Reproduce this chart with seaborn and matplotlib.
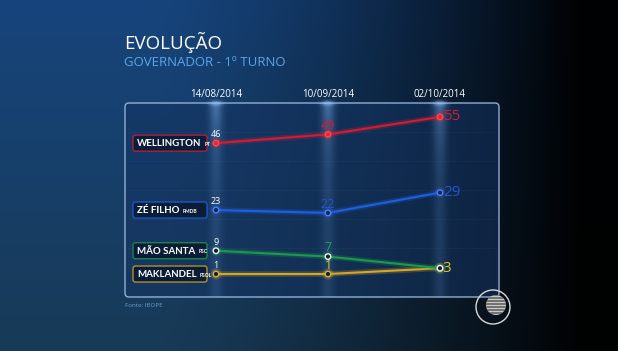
import matplotlib
matplotlib.use("Agg")
import matplotlib.pyplot as plt
import matplotlib.patheffects as pe
import matplotlib.font_manager as fm
from matplotlib.patches import FancyBboxPatch, Circle
import numpy as np
import pandas as pd
import seaborn as sns

# ---- data ----
dates = ["14/08/2014", "10/09/2014", "02/10/2014"]
candidates = ["WELLINGTON", "ZÉ FILHO", "MÃO SANTA", "MAKLANDEL"]
parties = ["PT", "PMDB", "PSC", "PSOL"]
wellington = [46, 49, 55]
ze_filho = [23, 22, 29]
mao_santa = [9, 7, 3]
maklandel = [1, 1, 3]

line_colors = ["#d21c34", "#1f5fe0", "#1c9a4c", "#d6a624"]
label_colors = ["#d21c34", "#2457d0", "#22a450", "#d8c424"]
face_colors = ["#e02a3a", "#0d2450", "#10203a", "#10203a"]
edge_colors = ["#ff4a4a", "#4a80ff", "#f2f2f2", "#e0b030"]

series = [wellington, ze_filho, mao_santa, maklandel]
rows = []
for name, vals in zip(candidates, series):
    for i, v in enumerate(vals):
        rows.append({"candidato": name, "pos": i, "votos": v})
df = pd.DataFrame(rows)

# ---- style ----
sns.set_theme(style="dark")
plt.rcParams["font.family"] = ["Open Sans", "DejaVu Sans"]
installed = {f.name for f in fm.fontManager.ttflist}
narrow = "Liberation Sans Narrow" if "Liberation Sans Narrow" in installed else "Lato"

W, H = 618, 351
fig = plt.figure(figsize=(W / 100, H / 100), dpi=100)

# background gradient
bg = fig.add_axes([0, 0, 1, 1], zorder=0)
yv, xv = np.mgrid[0:H, 0:W]
yv = yv / H
xv = xv / W
top = np.array([22, 68, 124]) / 255
bot = np.array([24, 58, 86]) / 255
base = top * (1 - yv[..., None]) + bot * yv[..., None]
m = np.clip(1 - np.clip((xv - 0.25) / 0.7, 0, 1) ** 1.4, 0.02, 1)
bg.imshow(base * m[..., None], extent=[0, W, H, 0], aspect="auto")
bg.add_patch(FancyBboxPatch((125, 103), 374, 194,
                            boxstyle="round,pad=0,rounding_size=4",
                            facecolor=(0.08, 0.2, 0.38, 0.55),
                            edgecolor=(0.62, 0.74, 0.88, 0.9), lw=1))
bg.set_xlim(0, W)
bg.set_ylim(H, 0)
bg.axis("off")

# main chart axes
ax = fig.add_axes([125 / W, 1 - 297 / H, 374 / W, 194 / H], zorder=1)
ax.set_facecolor("none")
xlim = (-0.8125, 2.527)
ylim = (-6.9, 59.8)

# vertical glows
gx = np.linspace(-0.25, 0.25, 101)
gy = np.linspace(0, 1, 200)
glow = np.zeros((200, 101, 4))
glow[..., 0] = 0.55
glow[..., 1] = 0.75
glow[..., 2] = 1.0
glow[..., 3] = np.exp(-(gx / 0.06) ** 2)[None, :] * (0.13 + 0.30 * gy[:, None] ** 5)
for i in range(len(dates)):
    ax.imshow(glow, origin="lower", aspect="auto",
              extent=[i - 0.25, i + 0.25, ylim[0], ylim[1]], zorder=0)

for yg in [10, 20, 30, 40, 50]:
    ax.axhline(yg, color="#7fa0d0", lw=0.6, ls=(0, (1, 2)), alpha=0.18, zorder=0.5)

for k, name in enumerate(candidates):
    sub = df[df["candidato"] == name]
    sns.lineplot(data=sub, x="pos", y="votos", ax=ax, color=line_colors[k], lw=1.5,
                 marker="o", markersize=4, markerfacecolor=face_colors[k],
                 markeredgecolor=edge_colors[k], markeredgewidth=1, legend=False,
                 sort=False, zorder=3 + (3 - k),
                 path_effects=[pe.Stroke(linewidth=4, foreground=line_colors[k], alpha=0.25),
                               pe.Normal()])

for k, vals in enumerate(series):
    ax.annotate(str(vals[0]), (0, vals[0]), xytext=(0, 3), textcoords="offset points",
                ha="center", va="bottom", fontsize=6.5, color="white", zorder=8)
    ax.annotate(str(vals[1]), (1, vals[1]), xytext=(0, 1.5), textcoords="offset points",
                ha="center", va="bottom", fontsize=9, color=label_colors[k], zorder=8)
    if k != 2:
        ax.annotate(str(vals[2]), (2, vals[2]), xytext=(2, 0), textcoords="offset points",
                    ha="left", va="center", fontsize=11, color=label_colors[k], zorder=8)

ax.set_xlim(*xlim)
ax.set_ylim(*ylim)
ax.set_xticks(range(len(dates)))
ax.set_xticklabels(dates, color="white", fontsize=7)
ax.xaxis.tick_top()
ax.tick_params(axis="x", length=0, pad=2)
ax.set_yticks([])
ax.set_xlabel("")
ax.set_ylabel("")
for s in ax.spines.values():
    s.set_visible(False)

# overlay in pixel coordinates
ov = fig.add_axes([0, 0, 1, 1], zorder=2)
ov.set_facecolor("none")

# bright spots where columns meet the panel top
spot_x = np.linspace(-1, 1, 61)
spot = np.zeros((31, 61, 4))
spot[..., 0] = 0.6
spot[..., 1] = 0.8
spot[..., 2] = 1.0
spot[..., 3] = 0.6 * np.exp(-(spot_x[None, :] / 0.35) ** 2 - (np.linspace(-1, 1, 31)[:, None] / 0.35) ** 2)
for i in range(len(dates)):
    px = ax.transData.transform((i, 0))[0]
    ov.imshow(spot, extent=[px - 18, px + 18, 111, 95], aspect="auto")

title_font = ["Open Sans", "DejaVu Sans"]
ov.text(124, 49, "EVOLUÇÃO", color="white", fontsize=13.5, va="baseline", ha="left",
        family=title_font)
ov.text(124, 66.5, "GOVERNADOR - 1º TURNO", color="#5aa6e8", fontsize=9.5,
        va="baseline", ha="left", family=title_font)
ov.text(125, 307, "Fonte: IBOPE", color="#6a9ac8", fontsize=4.5, va="baseline", ha="left")

renderer = fig.canvas.get_renderer()
for k, name in enumerate(candidates):
    py = H - ax.transData.transform((0, series[k][0]))[1]
    ov.add_patch(FancyBboxPatch((133, py - 8), 74, 16,
                                boxstyle="round,pad=0,rounding_size=2.5",
                                facecolor=(0.04, 0.1, 0.2, 0.85),
                                edgecolor=line_colors[k], lw=0.9, alpha=0.9))
    t = ov.text(137, py + 0.5, name, color="white", fontsize=7, fontweight="bold",
                va="center", ha="left", family=[narrow, "DejaVu Sans"])
    ov.set_xlim(0, W)
    ov.set_ylim(H, 0)
    bb = t.get_window_extent(renderer=renderer)
    ov.text(bb.x1 + 3, py + 1, parties[k], color="white", fontsize=3.6, fontweight="bold",
            va="center", ha="left", family=[narrow, "DejaVu Sans"])

# logo
cx, cy = 493, 307
ov.add_patch(Circle((cx, cy), 17, facecolor="none", edgecolor="#d8d8d8", lw=1.0))
globe = Circle((cx + 3, cy - 2), 10, facecolor="#c8c8c8", edgecolor="none")
ov.add_patch(globe)
for yy in np.arange(cy - 12, cy + 10, 3):
    ov.plot([cx - 10, cx + 16], [yy, yy], color="#5a5a5a", lw=1.1, clip_path=globe)

ov.set_xlim(0, W)
ov.set_ylim(H, 0)
ov.axis("off")

fig.savefig("out.png", dpi=100)
